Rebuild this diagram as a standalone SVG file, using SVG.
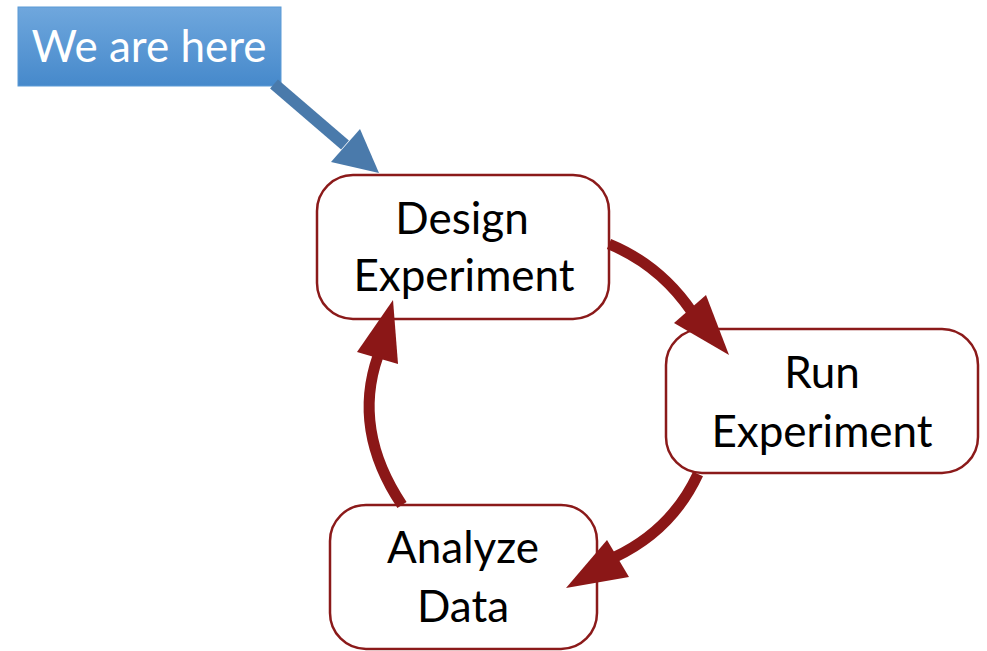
<svg xmlns="http://www.w3.org/2000/svg" width="987" height="651" viewBox="0 0 987 651">
  <defs>
    <linearGradient id="blueFill" x1="0" y1="0" x2="0" y2="1">
      <stop offset="0" stop-color="#6fa7dd"/>
      <stop offset="1" stop-color="#4689cb"/>
    </linearGradient>
  </defs>
  <style>
    .step rect { fill: #ffffff; stroke: #8b1a1a; stroke-width: 2.5; }
    .step text { font-family: Lato, "Open Sans", sans-serif; font-size: 44px; fill: #000000; text-anchor: middle; }
    .flow { fill: none; stroke: #8b1717; stroke-width: 11; }
    .head { fill: #8b1717; }
  </style>
  <rect width="987" height="651" fill="#ffffff"/>

  <g id="callout">
    <rect x="18" y="7" width="263" height="79" fill="url(#blueFill)" stroke="#5b9ad6" stroke-width="1"/>
    <text x="149" y="62" font-family="Lato, 'Open Sans', sans-serif" font-size="44" fill="#ffffff" text-anchor="middle">We are here</text>
  </g>

  <g id="design" class="step">
    <rect x="317" y="175" width="292" height="144" rx="36"/>
    <text x="462" y="234">Design</text>
    <text x="464" y="291">Experiment</text>
  </g>

  <g id="run" class="step">
    <rect x="666" y="329" width="312" height="144" rx="36"/>
    <text x="822" y="388">Run</text>
    <text x="822" y="447">Experiment</text>
  </g>

  <g id="analyze" class="step">
    <rect x="330" y="505" width="267" height="144" rx="36"/>
    <text x="463" y="563">Analyze</text>
    <text x="463" y="622">Data</text>
  </g>

  <!-- arrows are drawn last so their heads sit on top of the boxes -->
  <g id="connectors">
    <!-- pointer from callout -->
    <line x1="274" y1="84" x2="345" y2="145" stroke="#4a7aab" stroke-width="12"/>
    <polygon points="331,162 360,129 379,173" fill="#4a7aab"/>
    <!-- design to run -->
    <path class="flow" d="M609,244 Q660,265 692,312"/>
    <polygon class="head" points="674,323 706,295 729,355"/>
    <!-- run to analyze -->
    <path class="flow" d="M698,474 Q672,530 615,557"/>
    <polygon class="head" points="607,540 629,577 566,588"/>
    <!-- analyze to design -->
    <path class="flow" d="M402,505 Q352,430 378,356"/>
    <polygon class="head" points="357,352 398,364 393,300"/>
  </g>
</svg>
